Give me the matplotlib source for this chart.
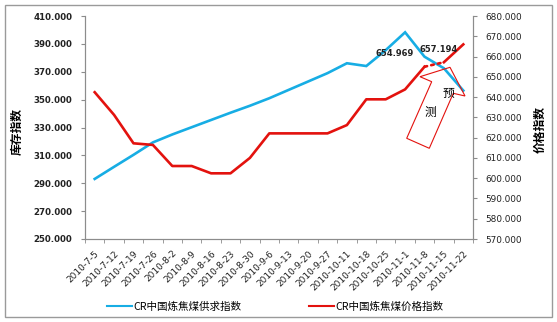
import matplotlib
matplotlib.use("Agg")
import matplotlib.pyplot as plt
from matplotlib.patches import Polygon, Rectangle
from matplotlib.ticker import FormatStrFormatter, FixedLocator, NullFormatter
from matplotlib.lines import Line2D

plt.rcParams['font.family'] = ['Noto Sans CJK SC', 'DejaVu Sans']

dates = ["2010-7-5", "2010-7-12", "2010-7-19", "2010-7-26", "2010-8-2", "2010-8-9",
         "2010-8-16", "2010-8-23", "2010-8-30", "2010-9-6", "2010-9-13", "2010-9-20",
         "2010-9-27", "2010-10-11", "2010-10-18", "2010-10-25", "2010-11-1",
         "2010-11-8", "2010-11-15", "2010-11-22"]
supply_index = [293.1, 301.8, 310.4, 319.3, 325.0, 330.2, 335.4, 340.6, 345.6, 351.0,
                357.0, 363.0, 369.0, 376.1, 374.1, 385.5, 398.3, 380.8, 372.5, 356.5]
price_index = [642.4, 631.2, 617.2, 616.4, 606.0, 606.0, 602.4, 602.4, 610.0, 622.1,
               622.1, 622.1, 622.1, 626.2, 638.9, 638.9, 643.8, 654.969, 657.194, 666.0]
left_ticks = [250, 270, 290, 310, 330, 350, 370, 390, 410]
right_ticks = [570, 580, 590, 600, 610, 620, 630, 640, 650, 660, 670, 680]
supply_name = "CR中国炼焦煤供求指数"
price_name = "CR中国炼焦煤价格指数"

BLUE = "#17ADE4"
RED = "#E3120E"
GRAY = "#8C8C8C"

W, H = 557, 322
fig = plt.figure(figsize=(W / 100, H / 100), dpi=100)
ax = fig.add_axes([85 / W, 1 - 239 / H, (473 - 85) / W, (239 - 16) / H])
ax2 = ax.twinx()

x = list(range(len(dates)))
ax.plot(x, supply_index, color=BLUE, lw=1.9, solid_joinstyle='miter', zorder=3)

n = len(price_index)
ax2.plot(x[:n - 2], price_index[:n - 2], color=RED, lw=1.9, zorder=3)
ax2.plot(x[n - 3:n - 1], price_index[n - 3:n - 1], color=RED, lw=1.9,
         linestyle=(0, (1.0, 1.6)), dash_capstyle='round', zorder=3)
ax2.plot(x[n - 2:], price_index[n - 2:], color=RED, lw=1.9, zorder=3)

ax.set_xlim(-0.5, len(dates) - 0.5)
ax.set_ylim(left_ticks[0], left_ticks[-1])
ax2.set_ylim(right_ticks[0], right_ticks[-1])
ax.set_yticks(left_ticks)
ax2.set_yticks(right_ticks)
ax.yaxis.set_major_formatter(FormatStrFormatter('%.3f'))
ax2.yaxis.set_major_formatter(FormatStrFormatter('%.3f'))

ax.set_xticks(x)
ax.set_xticklabels(dates, rotation=45, ha='right', va='top', rotation_mode='anchor',
                   fontsize=6.5, family='DejaVu Sans', color='#222222')
ax.tick_params(axis='x', which='major', length=0, pad=7)
ax.xaxis.set_minor_locator(FixedLocator([i - 0.5 for i in range(len(dates) + 1)]))
ax.xaxis.set_minor_formatter(NullFormatter())
ax.tick_params(axis='x', which='minor', length=3, color=GRAY, direction='out')

ax.tick_params(axis='y', labelsize=6.2, length=3, color=GRAY, pad=6,
               labelcolor='#222222')
for t in ax.get_yticklabels():
    t.set_family('DejaVu Sans')
    t.set_fontweight('bold')
ax2.tick_params(axis='y', labelsize=6.4, length=3, color=GRAY, pad=6,
                labelcolor='#222222')
for t in ax2.get_yticklabels():
    t.set_family('DejaVu Sans')

for a in (ax, ax2):
    for s in a.spines.values():
        s.set_color(GRAY)
        s.set_linewidth(0.8)
    a.spines['top'].set_visible(False)

ax.set_ylabel("库存指数", fontsize=8.5, fontweight='bold')
ax.yaxis.set_label_coords(-(85 - 24) / 388, 0.482)
ax2.set_ylabel("价格指数", fontsize=8.5, fontweight='bold')
ax2.yaxis.set_label_coords(1 + (534 - 473) / 388, 0.49)

# value labels on the last two price points
ax2.annotate(f"{price_index[n - 3]:.3f}", (x[n - 3], price_index[n - 3]),
             textcoords='offset points', xytext=(-21.5, 9.5), ha='center', va='center',
             fontsize=6, fontweight='bold', family='DejaVu Sans', color='#222222')
ax2.annotate(f"{price_index[n - 2]:.3f}", (x[n - 2], price_index[n - 2]),
             textcoords='offset points', xytext=(-3.5, 9.0), ha='center', va='center',
             fontsize=6, fontweight='bold', family='DejaVu Sans', color='#222222')

# forecast call-out arrow
arrow_px = [(450, 67.3), (465, 96), (453.3, 93.3), (429.3, 148.3),
            (406.7, 138.3), (431.7, 81.7), (420, 76.7)]
arrow = Polygon([(px / W, 1 - py / H) for px, py in arrow_px], closed=True,
                fill=False, edgecolor=RED, lw=0.8, transform=fig.transFigure, zorder=2)
fig.patches.append(arrow)
fig.text(448 / W, 1 - 93 / H, "预", fontsize=8.5, ha='center', va='center', color='black')
fig.text(430 / W, 1 - 112 / H, "测", fontsize=8.5, ha='center', va='center', color='black')

# legend
handles = [Line2D([], [], color=BLUE, lw=1.5), Line2D([], [], color=RED, lw=1.5)]
fig.legend(handles, [supply_name, price_name], loc='center', ncol=2,
           bbox_to_anchor=(0.4946, 1 - 307 / H), frameon=False, fontsize=7.6,
           handlelength=2.3, handletextpad=0.2, columnspacing=6.4)

# outer frame
fig.patches.append(Rectangle((5 / W, 1 - 317 / H), (552 - 5) / W, (317 - 5) / H,
                             fill=False, edgecolor='#9A9A9A', lw=1.0,
                             transform=fig.transFigure))

fig.savefig("out.png", dpi=100)
